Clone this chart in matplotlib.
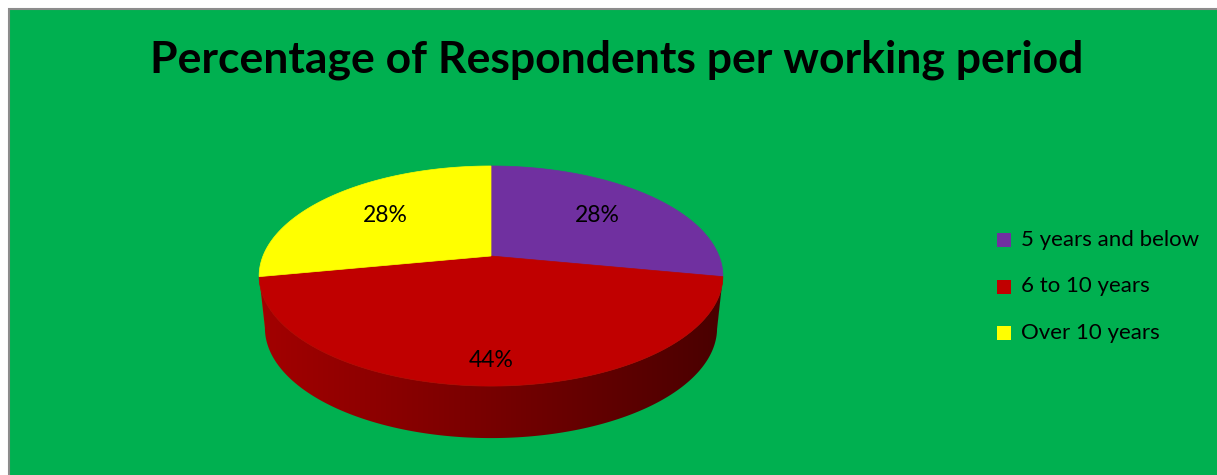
import numpy as np
import matplotlib
matplotlib.use("Agg")
import matplotlib.pyplot as plt
from matplotlib.patches import Rectangle, Polygon
from matplotlib.colors import LinearSegmentedColormap, to_rgb

# data
categories = ["5 years and below", "6 to 10 years", "Over 10 years"]
values = [28, 44, 28]
colors = ["#7030A0", "#C00000", "#FFFF00"]
title = "Percentage of Respondents per working period"

W, H = 1217, 475
plt.rcParams["font.family"] = ["Lato", "DejaVu Sans"]

fig = plt.figure(figsize=(W / 100, H / 100), dpi=100)
ax = fig.add_axes([0, 0, 1, 1])
ax.set_xlim(0, W)
ax.set_ylim(H, 0)
ax.axis("off")

# green chart area with thin grey frame
ax.add_patch(Rectangle((9, 9), W, H, facecolor="#00B050", edgecolor="#8C8C8C", lw=1.5))

# 3d pie geometry (perspective tilt)
cx, cy = 491, 256
rx, ry = 228, 106.4
k = 0.182
depth = 52
shrink = 0.975  # bottom rim a bit narrower (perspective)


def project(phi, r=1.0):
    x = r * np.sin(phi)
    y = -r * np.cos(phi)
    w = 1 - k * y
    return cx + rx * x / w, cy + ry * y / w


fracs = np.array(values) / sum(values)
edges = np.concatenate([[0], np.cumsum(fracs)]) * 2 * np.pi

# sides (only the near half is visible), shaded left -> right
for i in range(len(values)):
    phis = np.linspace(edges[i], edges[i + 1], 400)
    phis = phis[-np.cos(phis) > k]
    if len(phis) < 2:
        continue
    X, Y = project(phis)
    Xb = cx + (X - cx) * shrink
    pts = list(zip(X, Y)) + list(zip(Xb[::-1], Y[::-1] + depth))
    side = Polygon(pts, closed=True, facecolor="none", edgecolor="none")
    ax.add_patch(side)
    base = np.array(to_rgb(colors[i]))
    cmap = LinearSegmentedColormap.from_list("side", [base * 0.85, base * 0.62, base * 0.38])
    grad = np.linspace(0, 1, 256).reshape(1, -1)
    im = ax.imshow(grad, cmap=cmap, extent=(cx - rx * 1.02, cx + rx * 1.02, Y.max() + depth + 2, Y.min() - 2),
                   aspect="auto", interpolation="bilinear", zorder=1)
    im.set_clip_path(side)

# top faces
for i in range(len(values)):
    phis = np.linspace(edges[i], edges[i + 1], 200)
    X, Y = project(phis)
    pts = [(cx, cy)] + list(zip(X, Y))
    ax.add_patch(Polygon(pts, closed=True, facecolor=colors[i], edgecolor=colors[i], lw=0.5, zorder=2))

# data labels
label_r = [0.65, 0.83, 0.65]
for i in range(len(values)):
    mid = (edges[i] + edges[i + 1]) / 2
    lx, ly = project(mid, label_r[i])
    ax.text(lx, ly, f"{values[i]}%", ha="center", va="center", fontsize=16.5, color="black", zorder=3)

# title
ax.text(617, 60, title, ha="center", va="center", fontsize=32, fontweight="bold", color="black")

# legend
for i, name in enumerate(categories):
    yy = 240 + i * 46.5
    ax.add_patch(Rectangle((997, yy - 7), 14, 14, facecolor=colors[i], edgecolor="none"))
    ax.text(1021, yy, name, ha="left", va="center", fontsize=16, color="black")

fig.savefig("out.png", dpi=100)
